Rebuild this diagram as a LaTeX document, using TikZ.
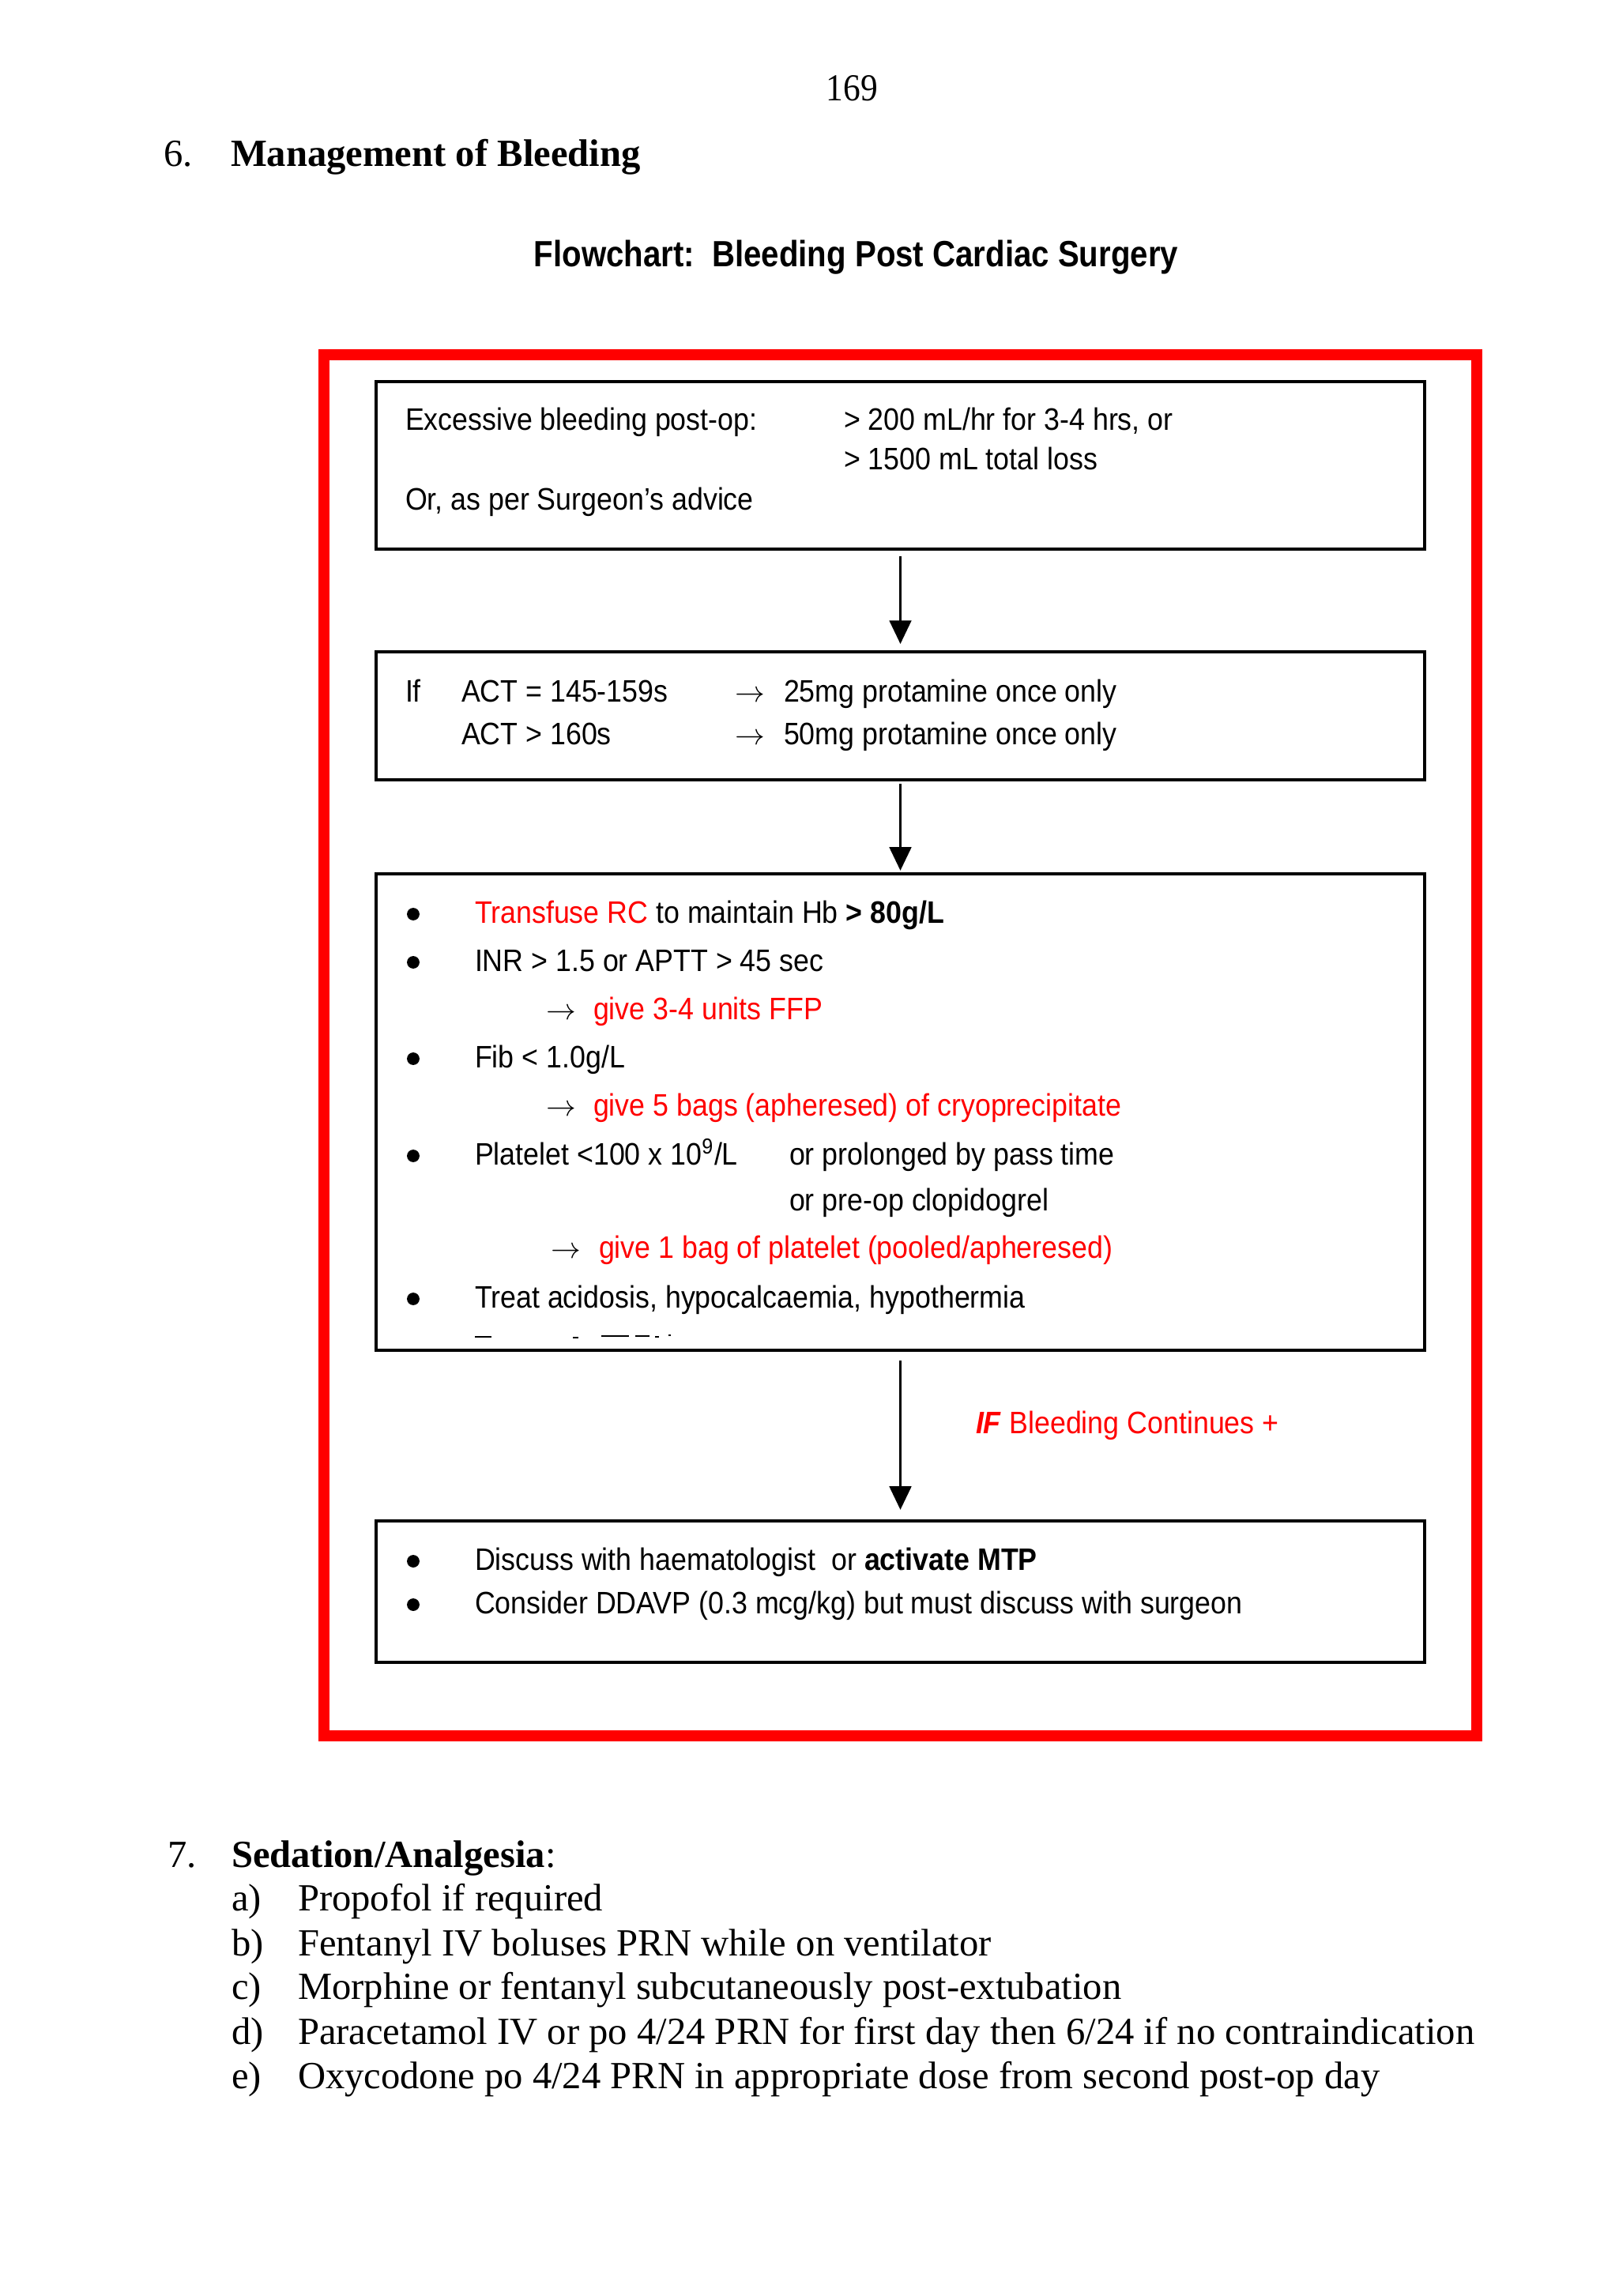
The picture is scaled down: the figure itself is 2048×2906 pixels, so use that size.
\documentclass[tikz,border=0pt]{standalone}
\usepackage{fontspec}
\setmainfont{Liberation Serif}
\newfontfamily\nsans[FakeStretch=0.91]{Liberation Sans}
\newfontfamily\tsans[FakeStretch=0.87]{Liberation Sans}
\newfontfamily\pserif[FakeStretch=0.9]{Liberation Serif}
\usetikzlibrary{arrows.meta,fit}
\definecolor{rd}{RGB}{255,0,0}
\newcommand\bodyf{\nsans\fontsize{11.4}{14}\selectfont}
\newcommand\serf{\rmfamily\fontsize{14.1}{16}\selectfont}
\newcommand\rar{$\rightarrow$}
\tikzset{
  txt/.style={anchor=base west, inner sep=0pt, outer sep=0pt, font=\bodyf},
  stxt/.style={anchor=base west, inner sep=0pt, outer sep=0pt, font=\serf},
  bul/.style={circle, fill=black, inner sep=0pt, outer sep=0pt, minimum size=4.6pt},
  flowbox/.style={draw=black, line width=1pt, inner sep=0pt, outer sep=0pt},
  redframe/.style={draw=rd, line width=4.06pt, inner sep=0pt, outer sep=0pt},
  arr/.style={-{Triangle[width=8pt,length=8.6pt]}, line width=0.9pt},
  frag/.style={line width=0.6pt}
}
\begin{document}
\begin{tikzpicture}[x=0.29pt,y=-0.29pt]
\useasboundingbox (0,0) rectangle (2048,2906);

% header
\node[anchor=base west, inner sep=0pt, font=\pserif\fontsize{14}{16}\selectfont] (pg) at (1045,128) {169};
\node[stxt] (h6n) at (207,211) {6.};
\node[stxt, font=\serf\bfseries] (h6) at (292,211) {Management of Bleeding};
\node[anchor=base west, inner sep=0pt, font=\tsans\bfseries\fontsize{13.4}{16}\selectfont] (title) at (675,338) {Flowchart:\ \ Bleeding Post Cardiac Surgery};

% red frame
\node[redframe, fit={(410,449) (1869,2197)}] (frame) {};

% boxes
\node[flowbox, fit={(476,483) (1803,695)}] (b1) {};
\node[flowbox, fit={(476,825) (1803,987)}] (b2) {};
\node[flowbox, fit={(476,1106) (1803,1709)}] (b3) {};
\node[flowbox, fit={(476,1925) (1803,2104)}] (b4) {};

% arrows
\draw[arr, shorten <=2.6pt, shorten >=2.9pt] (b1.south) -- (b2.north);
\draw[arr, shorten <=1.5pt, shorten >=1.2pt] (b2.south) -- (b3.north);
\draw[arr, shorten <=3.8pt, shorten >=4.1pt] (b3.south) -- (b4.north);

% box 1
\node[txt] (t11) at (513,544) {Excessive bleeding post-op:};
\node[txt] (t12) at (1068,544) {> 200 mL/hr for 3-4 hrs, or};
\node[txt] (t13) at (1068,594) {> 1500 mL total loss};
\node[txt] (t14) at (513,645) {Or, as per Surgeon’s advice};

% box 2
\node[txt] (t21) at (513,888) {If};
\node[txt] (t22) at (584,888) {ACT = 145-159s};
\node[txt] (t23) at (930,888) {\rar};
\node[txt] (t24) at (992,888) {25mg protamine once only};
\node[txt] (t25) at (584,942) {ACT > 160s};
\node[txt] (t26) at (930,942) {\rar};
\node[txt] (t27) at (992,942) {50mg protamine once only};

% box 3
\node[bul] (u31) at (523,1157) {};
\node[txt] (t31) at (601,1168) {\textcolor{rd}{Transfuse RC} to maintain Hb \textbf{> 80g/L}};
\node[bul] (u32) at (523,1218) {};
\node[txt] (t32) at (601,1229) {INR > 1.5 or APTT > 45 sec};
\node[txt] (t33a) at (691,1290) {\rar};
\node[txt, text=rd] (t33) at (751,1290) {give 3-4 units FFP};
\node[bul] (u34) at (523,1340) {};
\node[txt] (t34) at (601,1351) {Fib < 1.0g/L};
\node[txt] (t35a) at (691,1412) {\rar};
\node[txt, text=rd] (t35) at (751,1412) {give 5 bags (apheresed) of cryoprecipitate};
\node[bul] (u36) at (523,1463) {};
\node[txt] (t36) at (601,1474) {Platelet <100 x 10\textsuperscript{9}/L};
\node[txt] (t36b) at (999,1474) {or prolonged by pass time};
\node[txt] (t37) at (999,1532) {or pre-op clopidogrel};
\node[txt] (t38a) at (697,1592) {\rar};
\node[txt, text=rd] (t38) at (758,1592) {give 1 bag of platelet (pooled/apheresed)};
\node[bul] (u39) at (523,1644) {};
\node[txt] (t39) at (601,1655) {Treat acidosis, hypocalcaemia, hypothermia};
% clipped line fragments
\draw[frag] (601,1692) -- (622,1692);
\draw[frag] (725,1693) -- (732,1693);
\draw[frag] (761,1691) -- (796,1691);
\draw[frag] (804,1691) -- (822,1691);
\draw[frag] (829,1692) -- (834,1692);
\draw[frag] (846,1690) -- (849,1690);

% branch label
\node[txt] (lab) at (1235,1814) {\textcolor{rd}{\textbf{\textit{IF}} Bleeding Continues +}};

% box 4
\node[bul] (u41) at (523,1976) {};
\node[txt] (t41) at (601,1987) {Discuss with haematologist\ \ or \textbf{activate MTP}};
\node[bul] (u42) at (523,2031) {};
\node[txt] (t42) at (601,2042) {Consider DDAVP (0.3 mcg/kg) but must discuss with surgeon};

% section 7
\node[stxt] (s7n) at (212,2363) {7.};
\node[stxt] (s7) at (293,2363) {\textbf{Sedation/Analgesia}:};
\node[stxt] (la) at (293,2418) {a)};
\node[stxt] (ia) at (377,2418) {Propofol if required};
\node[stxt] (lb) at (293,2475) {b)};
\node[stxt] (ib) at (377,2475) {Fentanyl IV boluses PRN while on ventilator};
\node[stxt] (lc) at (293,2530) {c)};
\node[stxt] (ic) at (377,2530) {Morphine or fentanyl subcutaneously post-extubation};
\node[stxt] (ld) at (293,2587) {d)};
\node[stxt] (id) at (377,2587) {Paracetamol IV or po 4/24 PRN for first day then 6/24 if no contraindication};
\node[stxt] (le) at (293,2643) {e)};
\node[stxt] (ie) at (377,2643) {Oxycodone po 4/24 PRN in appropriate dose from second post-op day};
\end{tikzpicture}
\end{document}
